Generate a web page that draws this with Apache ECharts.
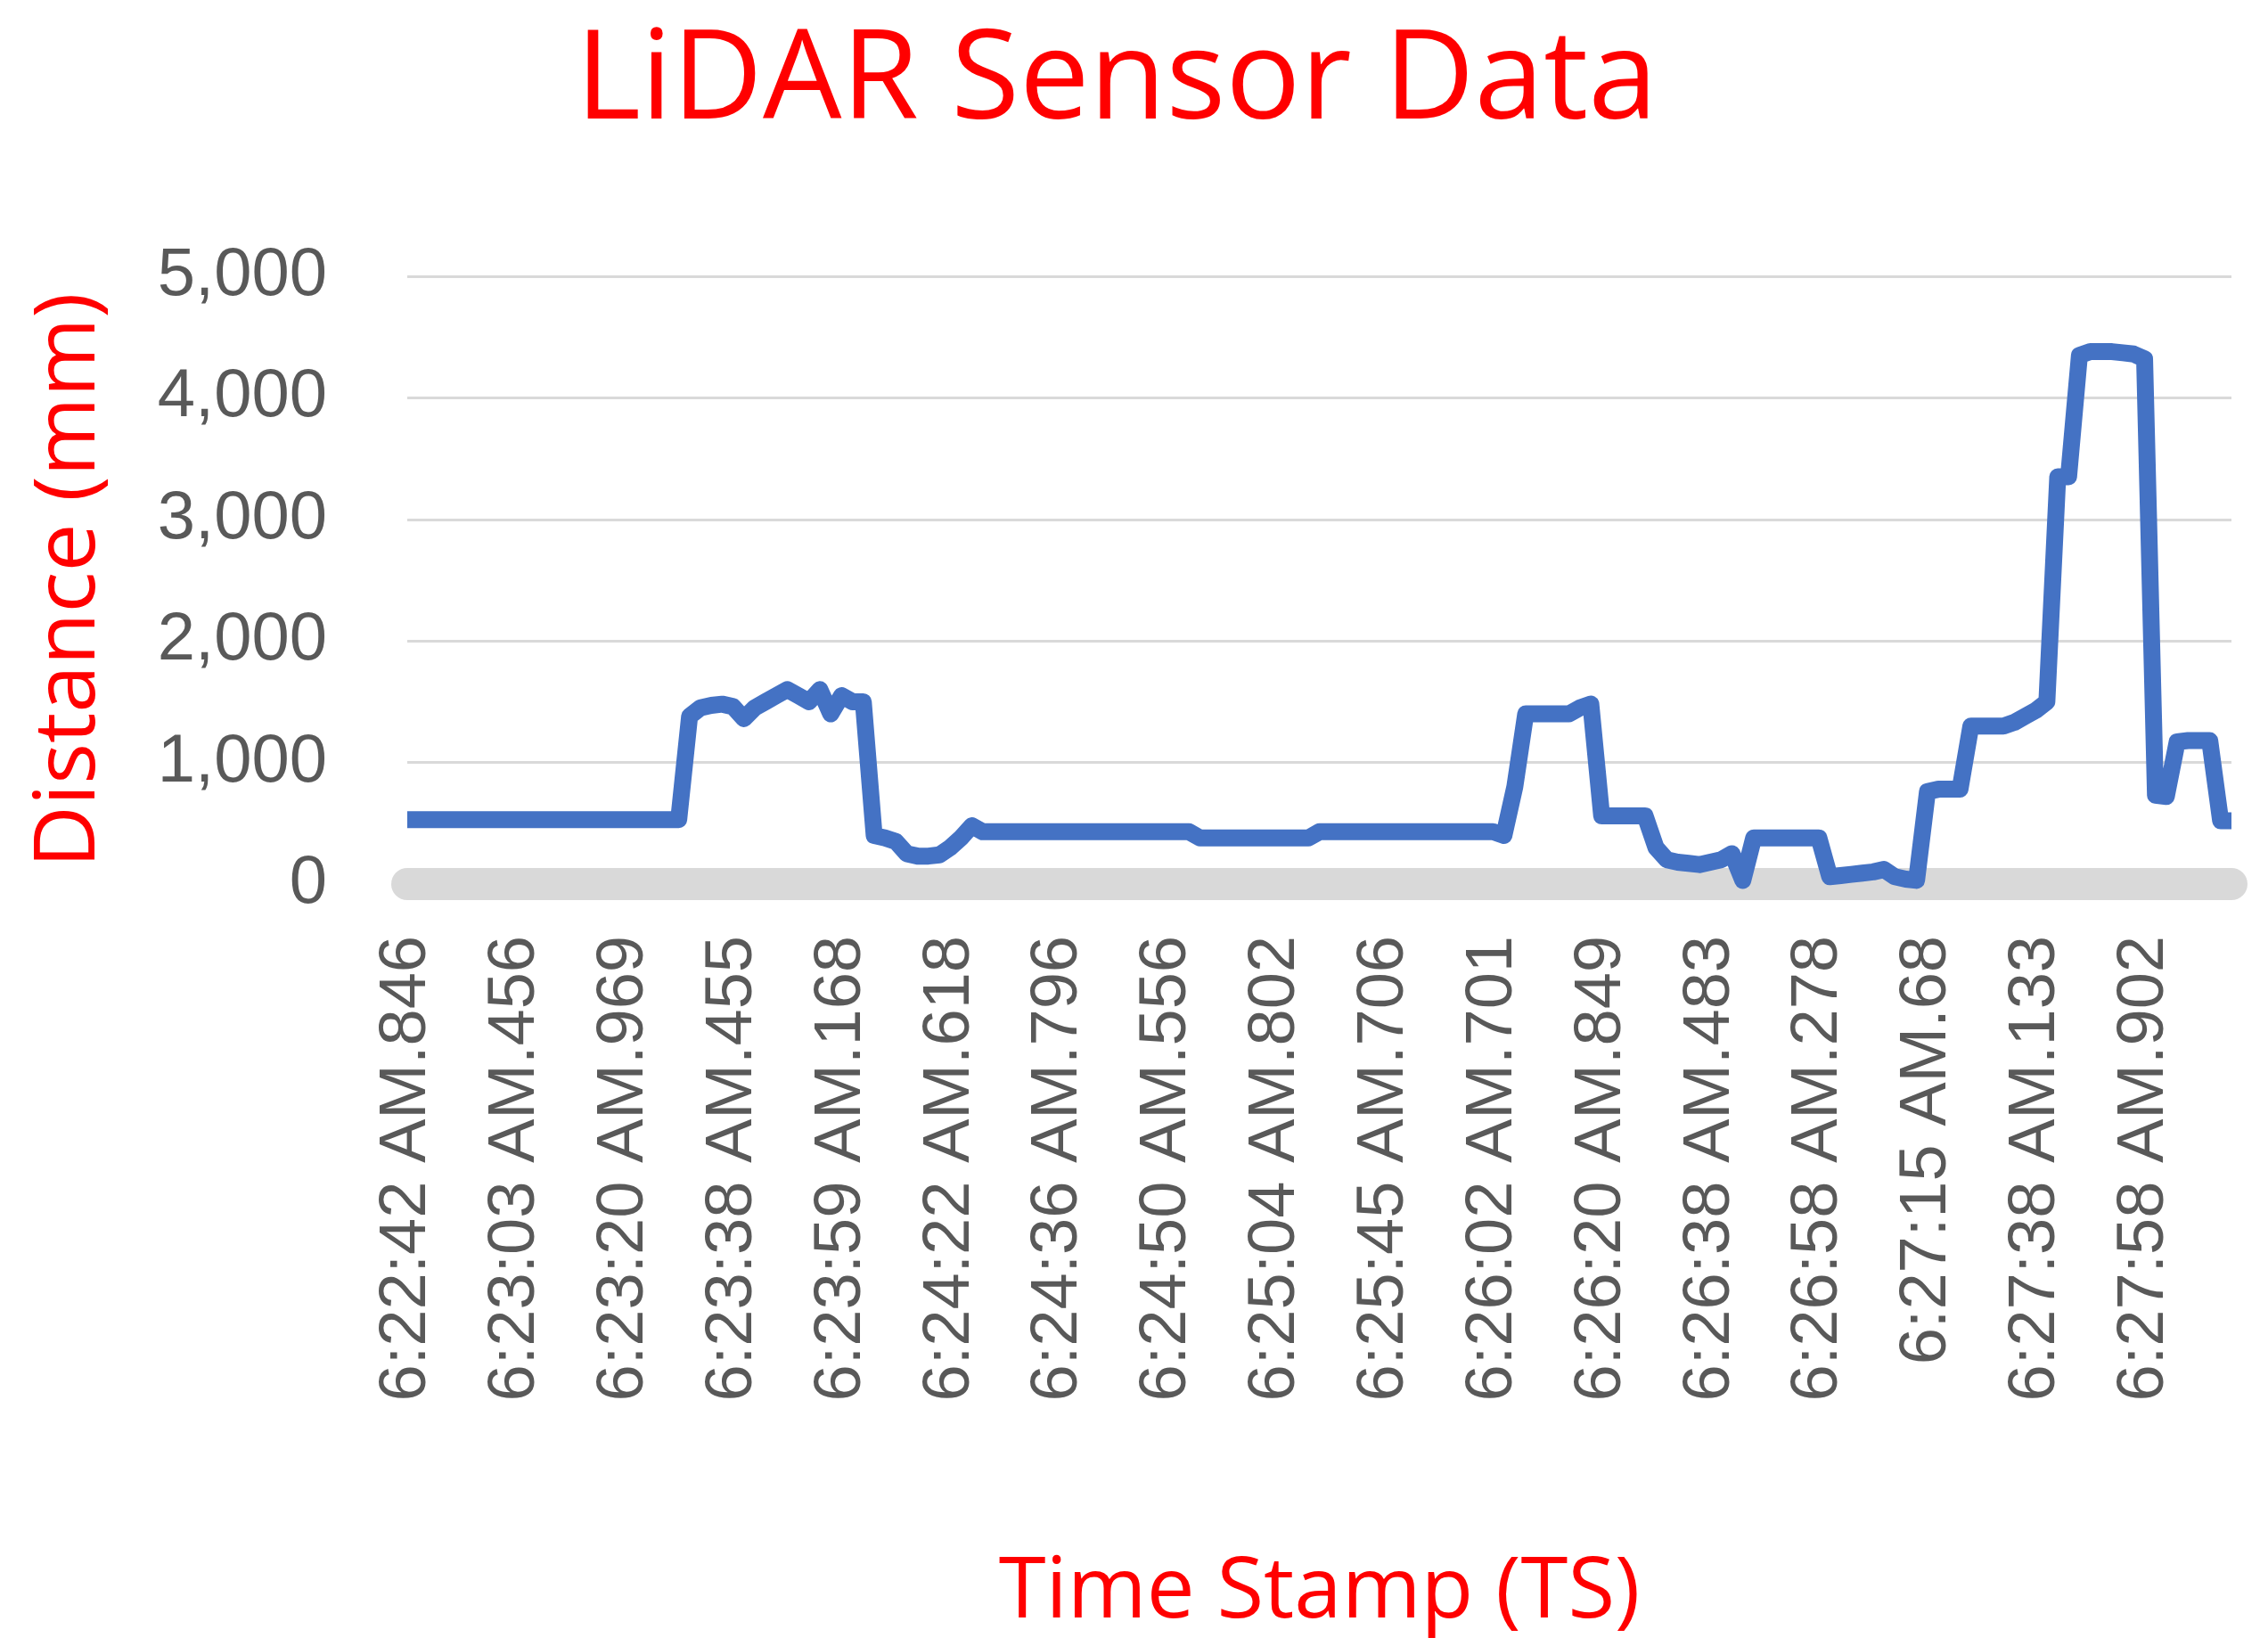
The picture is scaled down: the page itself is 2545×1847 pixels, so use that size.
<!DOCTYPE html>
<html>
<head>
<meta charset="utf-8">
<script src="https://cdn.jsdelivr.net/npm/echarts@6/dist/echarts.min.js"></script>
<style>html,body{margin:0;padding:0;background:#fff}#chart{width:2545px;height:1847px}</style>
</head>
<body>
<div id="chart"></div>
<script>
// tick labels, one every 10 samples
var tickLabels = ['6:22:42 AM.846','6:23:03 AM.456','6:23:20 AM.969','6:23:38 AM.455','6:23:59 AM.168',
    '6:24:22 AM.618','6:24:36 AM.796','6:24:50 AM.556','6:25:04 AM.802','6:25:45 AM.706',
    '6:26:02 AM.701','6:26:20 AM.849','6:26:38 AM.483','6:26:58 AM.278','6:27:15 AM.68',
    '6:27:38 AM.133','6:27:58 AM.902'];

// distance readings (mm)
var distance = [
    530,530,530,530,530,530,530,530,530,530,
    530,530,530,530,530,530,530,530,530,530,
    530,530,530,530,530,530,1380,1450,1470,1480,
    1460,1360,1450,1500,1550,1600,1550,1500,1600,1400,
    1550,1500,1500,400,380,350,250,230,230,240,
    300,380,480,430,430,430,430,430,430,430,
    430,430,430,430,430,430,430,430,430,430,
    430,430,430,380,380,380,380,380,380,380,
    380,380,380,380,430,430,430,430,430,430,
    430,430,430,430,430,430,430,430,430,430,
    430,400,800,1400,1400,1400,1400,1400,1450,1480,
    560,560,560,560,560,300,200,180,170,160,
    180,200,250,30,380,380,380,380,380,380,
    380,60,70,80,90,100,120,60,40,30,
    760,780,780,780,1300,1300,1300,1300,1330,1380,
    1430,1500,3350,3350,4350,4380,4380,4380,4370,4360,
    4320,730,720,1170,1180,1180,1180,520,520
];

var categories = distance.map(function (d, i) {
    return i % 10 === 0 ? (tickLabels[i / 10] || '') : '';
});

var chart = echarts.init(document.getElementById('chart'));
chart.setOption({
    animation: false,
    title: {
        text: 'LiDAR Sensor Data',
        left: 1248, top: 18, textAlign: 'center',
        textStyle: {color: '#ff0000', fontSize: 140, fontWeight: 'normal', fontFamily: 'Open Sans'}
    },
    grid: {left: 457, right: 41, top: 310, bottom: 855},
    xAxis: {
        type: 'category',
        data: categories,
        boundaryGap: false,
        offset: 18,
        name: 'Time Stamp (TS)',
        nameLocation: 'middle',
        nameGap: 730,
        nameTextStyle: {color: '#ff0000', fontSize: 96, fontFamily: 'Open Sans'},
        axisLine: {lineStyle: {color: '#d9d9d9', width: 36}},
        axisTick: {show: false},
        axisLabel: {interval: 9, rotate: 90, margin: 40, color: '#595959', fontSize: 74, fontFamily: 'Liberation Sans'}
    },
    yAxis: {
        type: 'value',
        min: 0, max: 5000, interval: 1000,
        name: 'Distance (mm)',
        nameLocation: 'middle',
        nameGap: 330,
        nameTextStyle: {color: '#ff0000', fontSize: 96, fontFamily: 'Open Sans'},
        axisLine: {show: false},
        axisTick: {show: false},
        axisLabel: {margin: 90, color: '#595959', fontSize: 76, fontFamily: 'Liberation Sans'},
        splitLine: {lineStyle: {color: '#d9d9d9', width: 3}}
    },
    series: [{
        type: 'line',
        data: distance,
        showSymbol: false,
        lineStyle: {color: '#4472c4', width: 19, join: 'round'},
        z: 5
    }]
});
</script>
</body>
</html>
